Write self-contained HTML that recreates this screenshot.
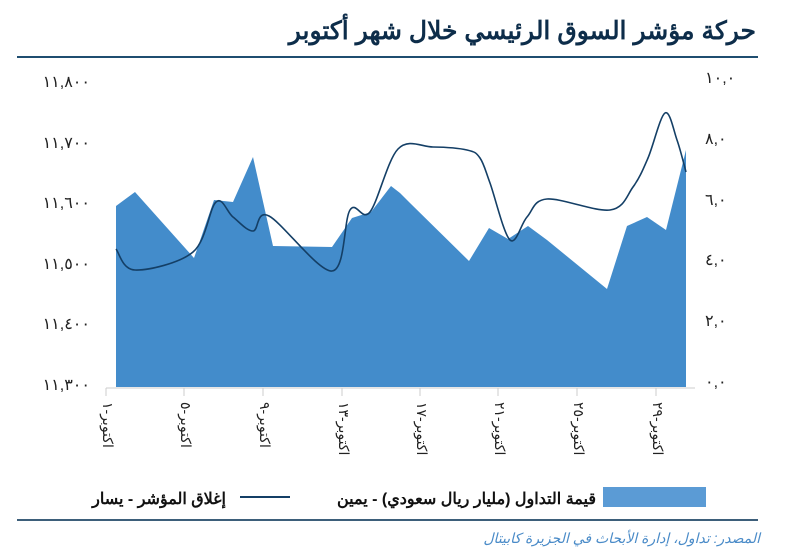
<!DOCTYPE html>
<html><head><meta charset="utf-8"><style>
body{margin:0;background:#fff;width:785px;height:550px;overflow:hidden;font-family:"Liberation Sans","Noto Sans CJK SC",sans-serif}
</style></head><body>
<svg width="785" height="550" xmlns="http://www.w3.org/2000/svg" font-family="'Liberation Sans','Noto Sans CJK SC',sans-serif">
<text x="756" y="39" text-anchor="start" direction="rtl" font-size="25" font-weight="bold" fill="#0d2d4a">حركة مؤشر السوق الرئيسي خلال شهر أكتوبر</text>
<line x1="17" y1="57" x2="758" y2="57" stroke="#1f4e70" stroke-width="2"/>
<g font-size="16" fill="#222">
<text x="90" y="87" text-anchor="end">١١,٨٠٠</text>
<text x="90" y="148" text-anchor="end">١١,٧٠٠</text>
<text x="90" y="208" text-anchor="end">١١,٦٠٠</text>
<text x="90" y="269" text-anchor="end">١١,٥٠٠</text>
<text x="90" y="329" text-anchor="end">١١,٤٠٠</text>
<text x="90" y="390" text-anchor="end">١١,٣٠٠</text>
<text x="705" y="83">١٠,٠</text>
<text x="705" y="144">٨,٠</text>
<text x="705" y="205">٦,٠</text>
<text x="705" y="265">٤,٠</text>
<text x="705" y="326">٢,٠</text>
<text x="705" y="387">٠,٠</text>
</g>
<polygon fill="#438ccb" points="116,387 116,206 135,192 194,258 214,200 233,202 253,157 273,246 332,247 352,218 371,212 391,186 400,193 410,203 469,261 489,228 508,239 528,226 547,240 607,289 627,226 647,217 666,230 686,150 686,387"/>
<path id="ln" fill="none" stroke="#143f66" stroke-width="1.6"/>
<line x1="106" y1="388" x2="695" y2="388" stroke="#ccc" stroke-width="1"/>
<g stroke="#ccc"><line x1="106" y1="388" x2="106" y2="396"/><line x1="184" y1="388" x2="184" y2="396"/><line x1="263" y1="388" x2="263" y2="396"/><line x1="342" y1="388" x2="342" y2="396"/><line x1="420" y1="388" x2="420" y2="396"/><line x1="498" y1="388" x2="498" y2="396"/><line x1="577" y1="388" x2="577" y2="396"/><line x1="656" y1="388" x2="656" y2="396"/></g>
<g font-size="14" fill="#222" direction="ltr">
<text transform="translate(103,402) rotate(90)">١&#x200E;-&#x200E;اكتوبر</text>
<text transform="translate(181,402) rotate(90)">٥&#x200E;-&#x200E;اكتوبر</text>
<text transform="translate(260,402) rotate(90)">٩&#x200E;-&#x200E;اكتوبر</text>
<text transform="translate(339,402) rotate(90)">١٣&#x200E;-&#x200E;اكتوبر</text>
<text transform="translate(417,402) rotate(90)">١٧&#x200E;-&#x200E;اكتوبر</text>
<text transform="translate(495,402) rotate(90)">٢١&#x200E;-&#x200E;اكتوبر</text>
<text transform="translate(574,402) rotate(90)">٢٥&#x200E;-&#x200E;اكتوبر</text>
<text transform="translate(653,402) rotate(90)">٢٩&#x200E;-&#x200E;اكتوبر</text>
</g>
<rect x="603" y="487" width="103" height="20" fill="#5b9bd5"/>
<text x="596" y="504" text-anchor="start" direction="rtl" font-size="16" font-weight="bold" fill="#111">قيمة التداول (مليار ريال سعودي) - يمين</text>
<line x1="240" y1="497" x2="290" y2="497" stroke="#143f66" stroke-width="2"/>
<text x="226" y="504" text-anchor="start" direction="rtl" font-size="16" font-weight="bold" fill="#111">إغلاق المؤشر - يسار</text>
<line x1="17" y1="520" x2="758" y2="520" stroke="#3d5f7a" stroke-width="2"/>
<text x="760" y="543" text-anchor="start" direction="rtl" font-size="14" font-style="italic" fill="#4a8bc8">المصدر: تداول، إدارة الأبحاث في الجزيرة كابيتال</text>
</svg>
<script>
var p=[[116,249],[135,270],[193,252],[216,202],[233,217],[253,231],[269,216],[332,271],[350,210],[370,212],[398,149],[433,147],[467,150],[480,158],[490,183],[510,240],[527,217],[547,199],[610,210],[633,187],[648,158],[665,113],[677,140],[686,172]];
var d="M"+p[0];
for(var i=0;i<p.length-1;i++){var a=p[i-1]||p[i],b=p[i],c=p[i+1],e=p[i+2]||c;
d+="C"+(b[0]+(c[0]-a[0])/6)+","+(b[1]+(c[1]-a[1])/6)+" "+(c[0]-(e[0]-b[0])/6)+","+(c[1]-(e[1]-b[1])/6)+" "+c[0]+","+c[1];}
document.getElementById("ln").setAttribute("d",d);
</script>
</body></html>
